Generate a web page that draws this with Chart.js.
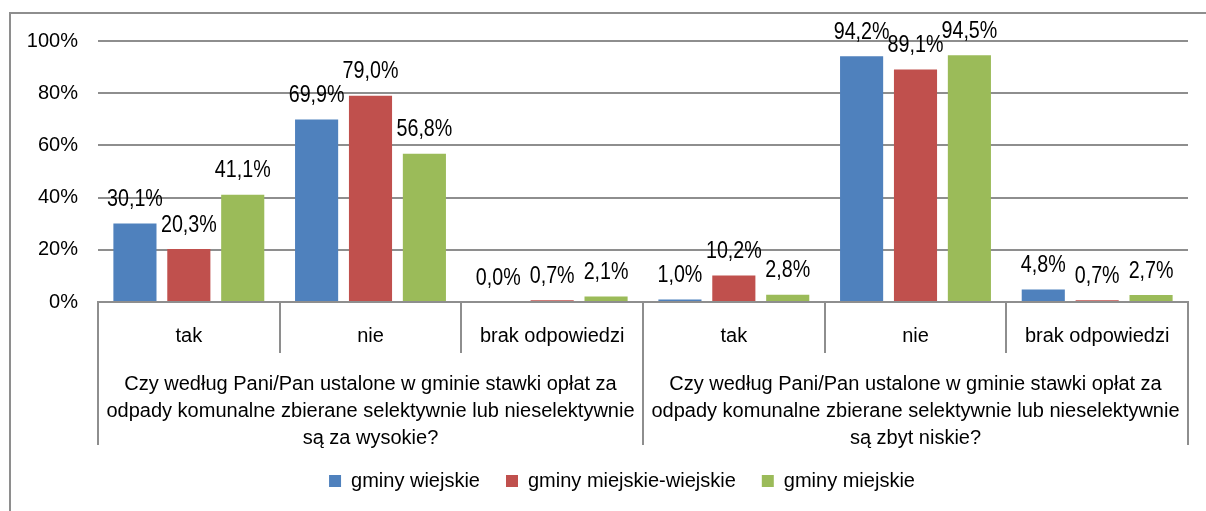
<!DOCTYPE html>
<html lang="pl">
<head>
<meta charset="utf-8">
<script src="https://cdn.jsdelivr.net/npm/chart.js@4.4.1/dist/chart.umd.min.js"></script>
<style>
html, body { margin: 0; padding: 0; background: #fff; overflow: hidden; }
#frame { position: absolute; left: 9px; top: 12px; width: 1300px; height: 600px; border-left: 2px solid #8e8e8e; border-top: 2px solid #8e8e8e; }
#wrap { position: absolute; left: 0; top: 0; width: 1206px; height: 511px; }
</style>
</head>
<body>
<div id="frame"></div>
<div id="wrap"><canvas id="chart"></canvas></div>
<script>
const answers = ['tak', 'nie', 'brak odpowiedzi'];
const categories = [...answers, ...answers];
const questionLines = [
    ['Czy według Pani/Pan ustalone w gminie stawki opłat za', 'odpady komunalne zbierane selektywnie lub nieselektywnie', 'są za wysokie?'],
    ['Czy według Pani/Pan ustalone w gminie stawki opłat za', 'odpady komunalne zbierane selektywnie lub nieselektywnie', 'są zbyt niskie?']
];
const seriesNames = ['gminy wiejskie', 'gminy miejskie-wiejskie', 'gminy miejskie'];
const seriesColors = ['#4F81BD', '#C0504D', '#9BBB59'];
const gminyWiejskie = [30.1, 69.9, 0.0, 1.0, 94.2, 4.8];
const gminyMiejskoWiejskie = [20.3, 79.0, 0.7, 10.2, 89.1, 0.7];
const gminyMiejskie = [41.1, 56.8, 2.1, 2.8, 94.5, 2.7];
const yTicks = [0, 20, 40, 60, 80, 100];

const GRID = '#8e8e8e';

// is Arial Narrow metric font present?
function hasFont(name) {
    const c = document.createElement('canvas').getContext('2d');
    const s = 'abcdefghijklm 0123456789%';
    c.font = '40px monospace';
    const a = c.measureText(s).width;
    c.font = `40px "${name}", monospace`;
    return c.measureText(s).width !== a;
}
const narrowOk = hasFont('Liberation Sans Narrow');
const numFont = narrowOk ? { family: '"Liberation Sans Narrow"', size: 24 } : { family: '"Liberation Sans"', size: 20 };

const fmt = v => v.toFixed(1).replace('.', ',') + '%';

const valueLabels = {
    id: 'valueLabels',
    afterDatasetsDraw(chart) {
        const ctx = chart.ctx;
        ctx.save();
        ctx.fillStyle = '#000';
        ctx.textAlign = 'center';
        ctx.textBaseline = 'middle';
        chart.data.datasets.forEach((ds, di) => {
            chart.getDatasetMeta(di).data.forEach((bar, i) => {
                ctx.save();
                ctx.translate(bar.x, bar.y - 24);
                if (narrowOk) {
                    ctx.font = '23.5px "Liberation Sans Narrow"';
                } else {
                    ctx.font = '24px "Liberation Sans"';
                    ctx.scale(0.82, 1);
                }
                ctx.fillText(fmt(ds.data[i]), 0, 0);
                ctx.restore();
            });
        });
        ctx.restore();
    }
};

// separators and the second level of category labels
const groupAxis = {
    id: 'groupAxis',
    afterLayout(chart) {
        chart.legend.left += 28;
        chart.legend.right += 28;
    },
    afterDraw(chart) {
        const xs = chart.scales.x, ctx = chart.ctx, base = chart.chartArea.bottom;
        const n = categories.length;
        const edge = i => i === 0 ? xs.left : i === n ? xs.right : (xs.getPixelForValue(i - 1) + xs.getPixelForValue(i)) / 2;
        ctx.save();
        ctx.strokeStyle = GRID;
        ctx.lineWidth = 2;
        for (let i = 0; i <= n; i++) {
            const x = Math.round(edge(i));
            ctx.beginPath();
            ctx.moveTo(x, base);
            ctx.lineTo(x, base + (i % answers.length === 0 ? 143 : 51));
            ctx.stroke();
        }
        ctx.fillStyle = '#000';
        ctx.font = '20px "Liberation Sans"';
        ctx.textAlign = 'center';
        ctx.textBaseline = 'alphabetic';
        questionLines.forEach((lines, g) => {
            const cx = (edge(g * answers.length) + edge((g + 1) * answers.length)) / 2;
            lines.forEach((t, k) => ctx.fillText(t, cx, base + 88 + k * 27));
        });
        ctx.restore();
    }
};

new Chart(document.getElementById('chart'), {
    type: 'bar',
    data: {
        labels: categories,
        datasets: [gminyWiejskie, gminyMiejskoWiejskie, gminyMiejskie].map((d, i) => ({
            label: seriesNames[i],
            data: d,
            backgroundColor: seriesColors[i],
            borderWidth: 0,
            categoryPercentage: 0.89,
            barPercentage: 0.8
        }))
    },
    options: {
        responsive: true,
        maintainAspectRatio: false,
        animation: false,
        layout: { padding: { top: 41, right: 18, bottom: 10, left: 0 } },
        scales: {
            x: {
                grid: { display: false },
                border: { display: true, color: GRID, width: 2 },
                ticks: { color: '#000', font: { family: '"Liberation Sans"', size: 20 }, padding: 14, maxRotation: 0 },
                afterFit(s) { s.height = 143; }
            },
            y: {
                min: 0, max: 100,
                afterBuildTicks(s) { s.ticks = yTicks.map(v => ({ value: v })); },
                grid: { color: GRID, lineWidth: 2, drawTicks: false },
                border: { display: false },
                ticks: { color: '#000', font: numFont, padding: 20, callback: v => v + '%' },
                afterFit(s) { s.width = 98; }
            }
        },
        plugins: {
            legend: {
                position: 'bottom',
                maxHeight: 66,
                labels: { color: '#000', boxWidth: 12, boxHeight: 12, padding: 26, font: { family: '"Liberation Sans"', size: 20 } }
            },
            tooltip: { enabled: false }
        }
    },
    plugins: [valueLabels, groupAxis]
});
</script>
</body>
</html>
